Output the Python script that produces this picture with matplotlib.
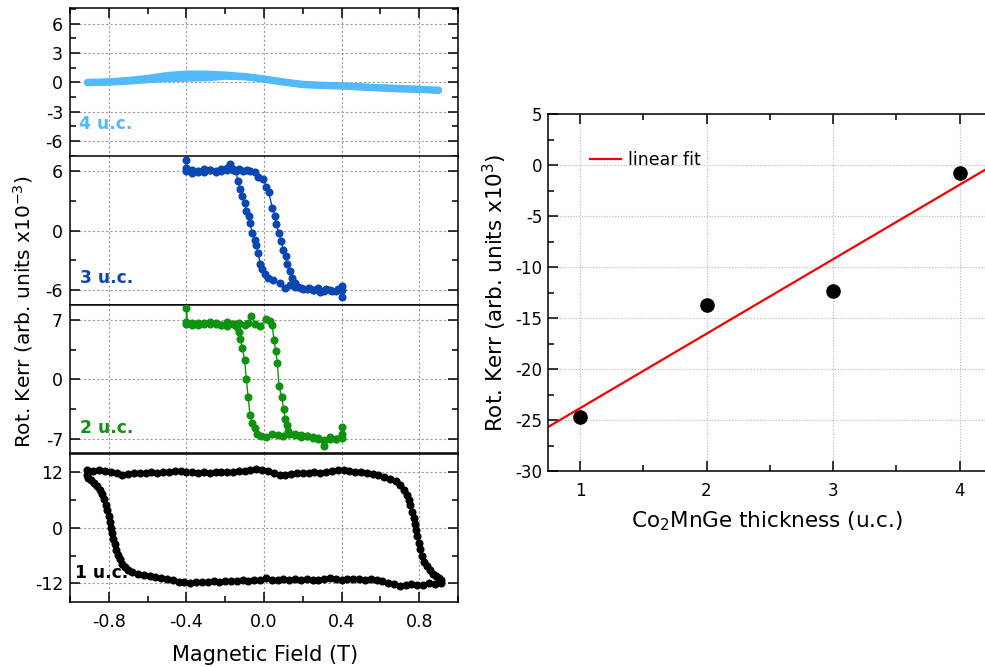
import matplotlib
matplotlib.use("Agg")
import matplotlib.pyplot as plt
import numpy as np
from matplotlib.ticker import MultipleLocator, FormatStrFormatter

plt.rcParams.update({
    "font.family": ["DejaVu Sans"],
    "mathtext.fontset": "dejavusans",
    "axes.unicode_minus": False,
    "axes.linewidth": 1.1,
})

LIGHT_BLUE = "#52b9fa"
DARK_BLUE = "#0a47b3"
GREEN = "#0f9210"
BLACK = "#000000"
GRID = "#9a9a9a"

# ---- 4 u.c. (two nearly overlapping sweeps)
uc4_up_x = [-0.91, -0.8, -0.7, -0.6, -0.5, -0.4, -0.3, -0.2, -0.1, 0.0, 0.1, 0.2, 0.3, 0.4, 0.5, 0.6, 0.7, 0.8, 0.9]
uc4_up_y = [0.0, 0.05, 0.2, 0.4, 0.7, 0.85, 0.85, 0.75, 0.6, 0.35, 0.05, -0.2, -0.3, -0.35, -0.45, -0.55, -0.62, -0.7, -0.85]
uc4_dn_x = [0.9, 0.8, 0.7, 0.6, 0.5, 0.4, 0.3, 0.2, 0.1, 0.0, -0.1, -0.2, -0.3, -0.4, -0.5, -0.6, -0.7, -0.8, -0.91]
uc4_dn_y = [-0.8, -0.75, -0.7, -0.6, -0.5, -0.4, -0.35, -0.25, 0.0, 0.3, 0.55, 0.6, 0.45, 0.4, 0.35, 0.25, 0.1, 0.0, -0.05]

# ---- 3 u.c.
uc3_a_x = [-0.40, -0.40, -0.395, -0.37, -0.34, -0.31, -0.28, -0.25, -0.22, -0.19, -0.175, -0.16, -0.145,
           -0.134, -0.122, -0.112, -0.10, -0.091, -0.079, -0.074, -0.06, -0.048, -0.04, -0.031, -0.019,
           -0.009, 0.003, 0.02, 0.046, 0.08, 0.107, 0.132,
           0.16, 0.19, 0.22, 0.25, 0.28, 0.31, 0.34, 0.37, 0.40, 0.40]
uc3_a_y = [6.0, 7.1, 6.2, 5.8, 6.0, 5.9, 6.1, 6.0, 6.2, 6.1, 6.7, 6.2, 6.0,
           5.05, 4.2, 3.5, 2.85, 2.0, 1.5, 0.8, -0.2, -0.9, -1.4, -2.2, -3.4,
           -3.9, -4.4, -4.8, -4.95, -5.3, -5.8, -5.5,
           -5.7, -5.8, -5.9, -6.0, -5.8, -6.1, -6.0, -6.1, -5.6, -6.7]
uc3_b_x = [0.40, 0.38, 0.35, 0.32, 0.29, 0.26, 0.23, 0.20, 0.175,
           0.158, 0.146, 0.132, 0.119, 0.112, 0.098, 0.089, 0.076, 0.064, 0.055, 0.043, 0.024, 0.012,
           -0.005, -0.031, -0.048, -0.07, -0.09, -0.11, -0.13, -0.16, -0.19, -0.22, -0.25, -0.28,
           -0.31, -0.34, -0.37, -0.40]
uc3_b_y = [-6.0, -5.9, -6.1, -5.9, -6.2, -6.0, -5.8, -5.9, -5.7,
           -5.3, -4.8, -4.1, -3.4, -2.6, -1.9, -1.05, -0.2, 0.64, 1.5, 2.3, 3.9, 4.4,
           5.2, 5.4, 5.9, 6.0, 6.1, 6.0, 6.2, 6.1, 6.3, 6.0, 5.9, 6.1,
           6.2, 5.9, 6.1, 6.3]

# ---- 2 u.c.
uc2_a_x = [-0.40, -0.40, -0.395, -0.37, -0.34, -0.31, -0.28, -0.25, -0.22, -0.19, -0.16, -0.14,
           -0.13, -0.122, -0.112, -0.10, -0.091, -0.082, -0.072, -0.06, -0.048, -0.036, -0.014,
           0.012, 0.04, 0.07, 0.10, 0.13, 0.16, 0.19, 0.22, 0.25, 0.28, 0.31, 0.34, 0.37, 0.40, 0.40]
uc2_a_y = [6.5, 8.4, 6.6, 6.4, 6.6, 6.5, 6.7, 6.5, 6.4, 6.3, 6.5, 6.2,
           5.6, 4.7, 3.74, 2.28, 0.0, -2.05, -4.25, -5.1, -5.7, -6.5, -6.7,
           -6.77, -6.5, -6.6, -6.7, -6.5, -6.6, -6.8, -6.7, -6.9, -7.0, -7.9, -7.1, -7.0, -6.4, -5.6]
uc2_b_x = [0.40, 0.37, 0.34, 0.31, 0.28, 0.25, 0.22, 0.19, 0.16, 0.13,
           0.124, 0.119, 0.11, 0.101, 0.091, 0.077, 0.069, 0.06, 0.052, 0.041,
           0.029, 0.012, -0.022, -0.045, -0.065, -0.08, -0.10, -0.13, -0.16, -0.19, -0.22, -0.25,
           -0.28, -0.31, -0.34, -0.37, -0.40]
uc2_b_y = [-6.9, -7.0, -6.8, -7.2, -6.9, -6.8, -6.7, -6.6, -6.5, -6.4,
           -6.1, -5.4, -4.7, -3.5, -2.05, -0.79, 1.97, 3.3, 4.65, 6.45,
           6.85, 7.05, 6.3, 6.5, 7.4, 6.6, 6.4, 6.6, 6.5, 6.7, 6.4, 6.6,
           6.5, 6.6, 6.4, 6.6, 6.7]

# ---- 1 u.c.
uc1_a_x = [-0.91, -0.88, -0.85, -0.82, -0.79, -0.76, -0.73, -0.70, -0.67, -0.64, -0.61, -0.58, -0.55,
           -0.52, -0.49, -0.46, -0.43, -0.40, -0.37, -0.34, -0.31, -0.28, -0.25, -0.22, -0.19, -0.16,
           -0.13, -0.10, -0.07, -0.04, -0.01, 0.02, 0.05, 0.08, 0.11, 0.14, 0.17, 0.20, 0.23, 0.26,
           0.29, 0.32, 0.35, 0.38, 0.41, 0.44, 0.47, 0.50, 0.53, 0.56, 0.59, 0.62, 0.65,
           0.68, 0.70, 0.72, 0.735, 0.745, 0.755, 0.765, 0.772, 0.778, 0.783, 0.79, 0.797, 0.805,
           0.815, 0.827, 0.84, 0.855, 0.87, 0.885, 0.90, 0.912]
uc1_a_y = [12.4, 12.3, 12.4, 12.2, 12.0, 11.8, 11.4, 11.6, 11.9, 11.8, 11.9, 12.0, 11.9,
           12.1, 12.0, 12.2, 12.3, 12.1, 12.0, 11.9, 12.0, 11.9, 12.0, 12.1, 12.0, 12.1,
           12.2, 12.3, 12.5, 12.6, 12.5, 12.3, 11.9, 11.4, 11.3, 11.5, 11.9, 11.8, 11.9, 12.0,
           11.9, 12.1, 12.3, 12.4, 12.5, 12.2, 12.0, 12.0, 11.9, 11.6, 11.4, 11.0, 10.6,
           10.0, 9.2, 8.2, 7.0, 6.0, 4.9, 3.5, 2.2, 0.8, -0.4, -1.8, -3.2, -4.6,
           -6.0, -7.3, -8.3, -9.2, -9.9, -10.4, -10.9, -11.3]
uc1_b_x = [0.91, 0.88, 0.85, 0.82, 0.79, 0.76, 0.73, 0.70, 0.67, 0.64, 0.61, 0.58, 0.55, 0.52,
           0.49, 0.46, 0.43, 0.40, 0.37, 0.34, 0.31, 0.28, 0.25, 0.22, 0.19, 0.16, 0.13, 0.10,
           0.07, 0.04, 0.01, -0.02, -0.05, -0.08, -0.11, -0.14, -0.17, -0.20, -0.23, -0.26, -0.29,
           -0.32, -0.35, -0.38, -0.41, -0.44, -0.47, -0.50, -0.53, -0.56, -0.59, -0.62, -0.65,
           -0.68, -0.70, -0.715, -0.73, -0.742, -0.752, -0.762, -0.77, -0.777, -0.783, -0.789,
           -0.795, -0.801, -0.808, -0.816, -0.825, -0.835, -0.847, -0.86, -0.875, -0.89, -0.905, -0.912]
uc1_b_y = [-12.0, -12.2, -12.0, -12.3, -12.4, -12.2, -12.4, -12.5, -12.2, -11.8, -11.4, -11.2, -11.1, -11.2,
           -11.0, -11.1, -11.0, -11.2, -11.1, -10.9, -11.1, -11.3, -11.2, -11.0, -11.2, -11.1, -11.2, -11.1,
           -11.3, -11.2, -10.9, -11.2, -11.3, -11.4, -11.3, -11.4, -11.5, -11.4, -11.6, -11.5, -11.6,
           -11.7, -11.6, -11.8, -11.7, -11.6, -11.2, -11.0, -10.8, -10.6, -10.4, -10.1, -9.9,
           -9.5, -9.0, -8.5, -7.8, -6.8, -5.8, -4.7, -3.6, -2.4, -1.2, 0.0,
           1.3, 2.5, 3.8, 5.0, 6.2, 7.2, 8.2, 9.0, 9.7, 10.3, 10.8, 11.3]

# ---- right panel: saturation Kerr rotation vs thickness
thickness = [1, 2, 3, 4]
kerr_sat = [-24.7, -13.7, -12.3, -0.8]

panels = [
    ("4 u.c.", LIGHT_BLUE, 7.6, 3, [(uc4_up_x, uc4_up_y), (uc4_dn_x, uc4_dn_y)], 0.022, 0.217),
    ("3 u.c.", DARK_BLUE, 7.5, 6, [(uc3_a_x, uc3_a_y), (uc3_b_x, uc3_b_y)], 0.025, 0.18),
    ("2 u.c.", GREEN, 8.75, 7, [(uc2_a_x, uc2_a_y), (uc2_b_x, uc2_b_y)], 0.025, 0.175),
    ("1 u.c.", BLACK, 16, 12, [(uc1_a_x, uc1_a_y), (uc1_b_x, uc1_b_y)], 0.013, 0.196),
]

W, H = 985, 667
fig = plt.figure(figsize=(W / 100, H / 100), dpi=100)

left, width = 70 / W, 388 / W
top, bottom = 1 - 8 / H, 1 - 602 / H
ph = (top - bottom) / 4

for i, (label, color, lim, step, branches, lx, ly) in enumerate(panels):
    ax = fig.add_axes([left, top - (i + 1) * ph, width, ph])
    for bx, by in branches:
        if i == 0:
            ax.plot(bx, by, color=color, lw=5, solid_capstyle="round", solid_joinstyle="round", zorder=3)
        else:
            ax.plot(bx, by, "-o", color=color, ms=4.8, mec=color, lw=1.0, zorder=3)
    ax.set_xlim(-1, 1)
    ax.set_ylim(-lim, lim)
    ax.xaxis.set_major_locator(MultipleLocator(0.4))
    ax.xaxis.set_minor_locator(MultipleLocator(0.2))
    ax.xaxis.set_major_formatter(FormatStrFormatter("%.1f"))
    ax.yaxis.set_major_locator(MultipleLocator(step))
    ax.yaxis.set_minor_locator(MultipleLocator(step / 2))
    ax.tick_params(which="both", direction="in", left=True, right=True,
                   top=(i == 0), bottom=(i == 3), labelbottom=(i == 3),
                   labelsize=12.5, width=1.1, pad=5)
    ax.tick_params(which="major", length=7)
    ax.tick_params(which="minor", length=4)
    ax.tick_params(axis="x", pad=8)
    ax.grid(True, which="major", color=GRID, ls=(0, (2, 2)), lw=0.8)
    ax.set_axisbelow(True)
    ax.text(lx, ly, label, transform=ax.transAxes, color=color, fontsize=12.3,
            fontweight="bold", va="center", ha="left")

fig.text(0.023, 1 - 312 / H, "Rot. Kerr (arb. units x10$^{-3}$)", rotation=90,
         ha="center", va="center", fontsize=14.5)
fig.text(265 / W, 1 - 655 / H, "Magnetic Field (T)", ha="center", va="center", fontsize=15)

# right panel
ax2 = fig.add_axes([548.3 / W, 1 - 471 / H, 1 - 548.3 / W, (471 - 114.3) / H])
ax2.set_xlim(0.75, 4.2)
ax2.set_ylim(-30, 5)
slope, intercept = np.polyfit(thickness, kerr_sat, 1)
xfit = np.array(ax2.get_xlim())
ax2.plot(xfit, slope * xfit + intercept, color="#f20000", lw=1.6, label="linear fit", zorder=2)
ax2.plot(thickness, kerr_sat, "o", color="black", ms=9.5, zorder=3)
ax2.xaxis.set_major_locator(MultipleLocator(1))
ax2.xaxis.set_minor_locator(MultipleLocator(0.5))
ax2.yaxis.set_major_locator(MultipleLocator(5))
ax2.yaxis.set_minor_locator(MultipleLocator(2.5))
ax2.spines["right"].set_visible(False)
ax2.tick_params(which="both", direction="in", left=True, top=True, right=False,
                labelsize=12, width=1.1)
ax2.tick_params(which="major", length=7)
ax2.tick_params(which="minor", length=4)
ax2.tick_params(axis="y", pad=4)
ax2.tick_params(axis="x", pad=8)
ax2.grid(True, which="major", color="#b5b5b5", ls=(0, (1, 1.5)), lw=0.8)
ax2.set_axisbelow(True)
ax2.set_xlabel("Co$_2$MnGe thickness (u.c.)", fontsize=15.5, labelpad=7)
ax2.set_ylabel("Rot. Kerr (arb. units x10$^3$)", fontsize=15.5, labelpad=5)
ax2.legend(loc="center left", bbox_to_anchor=(0.095, 0.871), frameon=False, fontsize=12.5,
           handlelength=1.8, handletextpad=0.4, borderpad=0, borderaxespad=0)

fig.savefig("out.png", dpi=100)
